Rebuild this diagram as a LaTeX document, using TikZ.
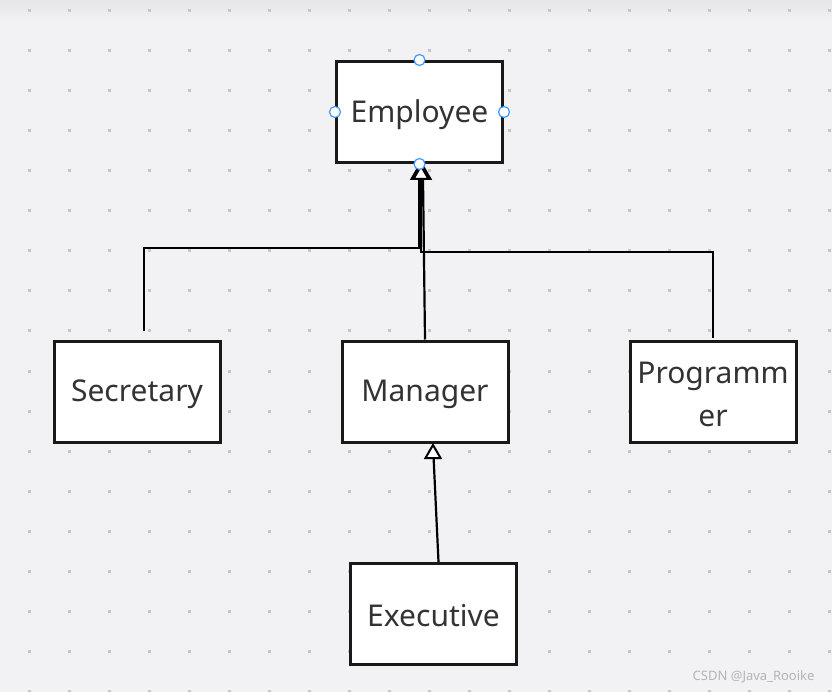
\documentclass[tikz,border=0pt]{standalone}
\usepackage{fontspec}
\setmainfont{Noto Sans}
\definecolor{bgc}{HTML}{F2F2F4}
\definecolor{topc}{HTML}{E6E6E8}
\definecolor{dotc}{HTML}{C6C6C8}
\definecolor{handle}{HTML}{3D9BFF}
\definecolor{wm}{HTML}{B4B4B8}
\tikzset{
  cls/.style={draw=black!90, line width=3pt, fill=white, minimum width=166pt, minimum height=101pt, inner sep=0pt},
  lbl/.style={inner sep=0pt, align=center, font=\fontsize{30}{43}\selectfont, text=black!80},
  inh/.style={draw=black, line width=2.2pt},
  tri/.style={draw=black, fill=white, line width=2pt, line join=miter},
  hnd/.style={circle, draw=handle, fill=white, line width=1.2pt, minimum size=11pt, inner sep=0pt}
}
\begin{document}
\begin{tikzpicture}[x=1pt,y=-1pt]
\useasboundingbox (0,0) rectangle (832,692);
\fill[bgc] (0,0) rectangle (832,692);
\shade[top color=topc, bottom color=bgc] (0,0) rectangle (832,22);
\foreach \xx in {29,69,...,829} {
  \foreach \yy in {11,51,...,691} {
    \fill[dotc] (\xx-1.5,\yy-1.5) rectangle (\xx+1.5,\yy+1.5);
  }
}
% classes
\node[cls] (emp) at (419.5,112) {};
\node[cls] (sec) at (137,391.5) {};
\node[cls] (man) at (425,391.5) {};
\node[cls] (pro) at (713,391.5) {};
\node[cls] (exe) at (433.5,613.5) {};
\node[lbl] (empt) at (419.5,115) {Employee};
\node[lbl] (sect) at (137,394) {Secretary};
\node[lbl] (mant) at (425,394) {Manager};
\node[lbl] (prot) at (713,394) {Programm\\er};
\node[lbl] (exet) at (433.5,616) {Executive};
% connector ends
\coordinate (secs) at (144,331);
\coordinate (pros) at (713,338);
\coordinate (b1) at (419,179);
\coordinate (b2) at (421,179);
\coordinate (b3) at (423,179);
\coordinate (exs) at (438.5,562);
\coordinate (mb) at (433.6,458);
% inheritance lines
\draw[inh] (secs) |- (419,248) -- (b1);
\draw[inh] (pros) |- (421,252) -- (b2);
\draw[inh] (man.north) -- (b3);
\draw[inh] (exs) -- (mb);
% arrowheads (open triangles)
\draw[tri] (419,166) -- (426.5,179) -- (411.5,179) -- cycle;
\draw[tri] (423,166) -- (430.5,179) -- (415.5,179) -- cycle;
\draw[tri] (421,166) -- (428.5,179) -- (413.5,179) -- cycle;
\draw[tri] (433,445) -- (440.5,458) -- (425.5,458) -- cycle;
% selection handles
\node[hnd] (h1) at (emp.north) {};
\node[hnd] (h2) at (emp.west) {};
\node[hnd] (h3) at (emp.east) {};
\node[hnd] (h4) at (emp.south) {};
% watermark
\node[text=wm, font=\fontsize{13}{15}\selectfont, anchor=east] (wmk) at (818,677) {CSDN @Java\_Rooike};
\end{tikzpicture}
\end{document}
